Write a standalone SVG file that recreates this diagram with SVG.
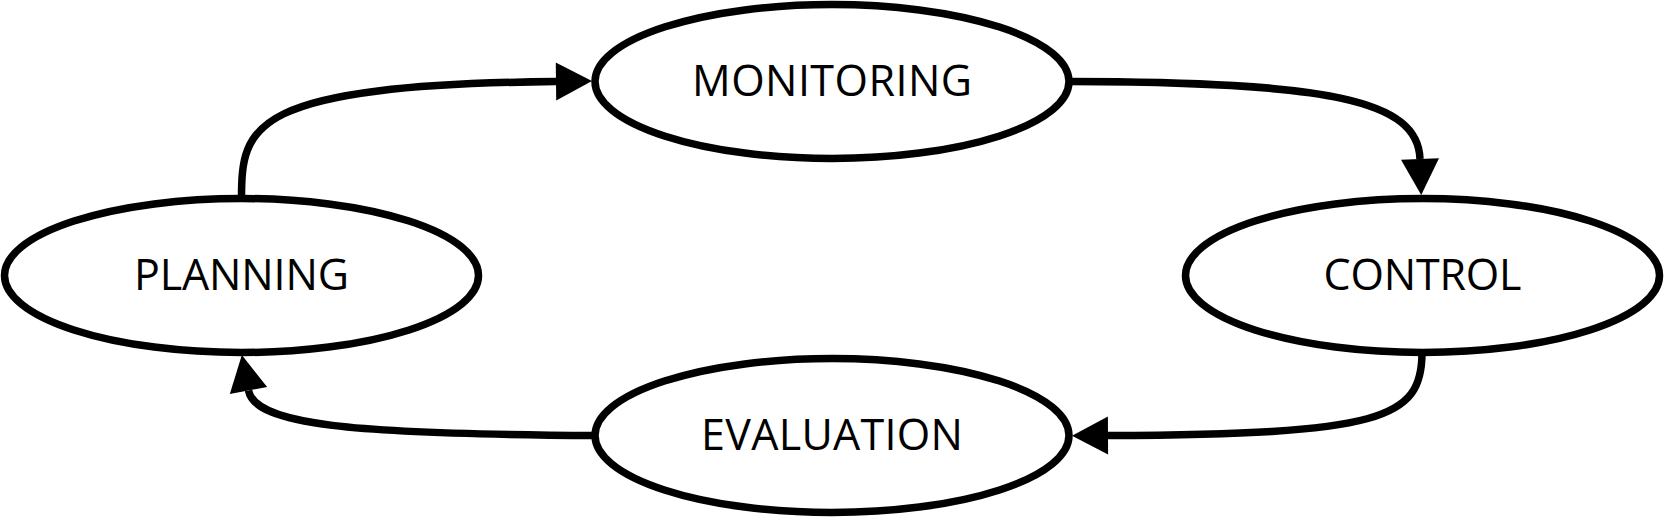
<svg xmlns="http://www.w3.org/2000/svg" width="1664" height="517" viewBox="0 0 1664 517">
  <style>
    .node { fill: #ffffff; stroke: #000000; stroke-width: 7.5; }
    .label { font-family: "Open Sans", "Noto Sans", "Liberation Sans", sans-serif; font-size: 43px; fill: #000000; text-anchor: middle; }
    .conn { fill: none; stroke: #000000; stroke-width: 7.5; marker-end: url(#arrow); }
  </style>
  <defs>
    <marker id="arrow" markerUnits="userSpaceOnUse" markerWidth="36" markerHeight="38" refX="0" refY="19" orient="auto" overflow="visible">
      <path d="M0,0 L36,19 L0,38 Z" fill="#000000"/>
    </marker>
  </defs>
  <rect x="0" y="0" width="1664" height="517" fill="#ffffff"/>
  <g id="connectors">
    <path class="conn" d="M241.5,198.5 C241.5,125 250,85 556,81.5"/>
    <path class="conn" d="M1069,81.5 C1330,82 1418,100 1420,159"/>
    <path class="conn" d="M1422,352.5 C1422,420 1380,434 1108,435.5"/>
    <path class="conn" d="M595,435.5 C350,434 255,425 248.5,390.5"/>
  </g>
  <g id="monitoring">
    <ellipse class="node" cx="832" cy="81.5" rx="237" ry="77"/>
    <text class="label" x="832" y="96" textLength="280" lengthAdjust="spacing">MONITORING</text>
  </g>
  <g id="planning">
    <ellipse class="node" cx="241.5" cy="275.5" rx="237" ry="77"/>
    <text class="label" x="241.5" y="290" textLength="215" lengthAdjust="spacing">PLANNING</text>
  </g>
  <g id="control">
    <ellipse class="node" cx="1422.5" cy="275.5" rx="237" ry="77"/>
    <text class="label" x="1422.5" y="290" textLength="198" lengthAdjust="spacing">CONTROL</text>
  </g>
  <g id="evaluation">
    <ellipse class="node" cx="832" cy="435.5" rx="237" ry="77"/>
    <text class="label" x="832" y="449.5" textLength="262" lengthAdjust="spacing">EVALUATION</text>
  </g>
</svg>
